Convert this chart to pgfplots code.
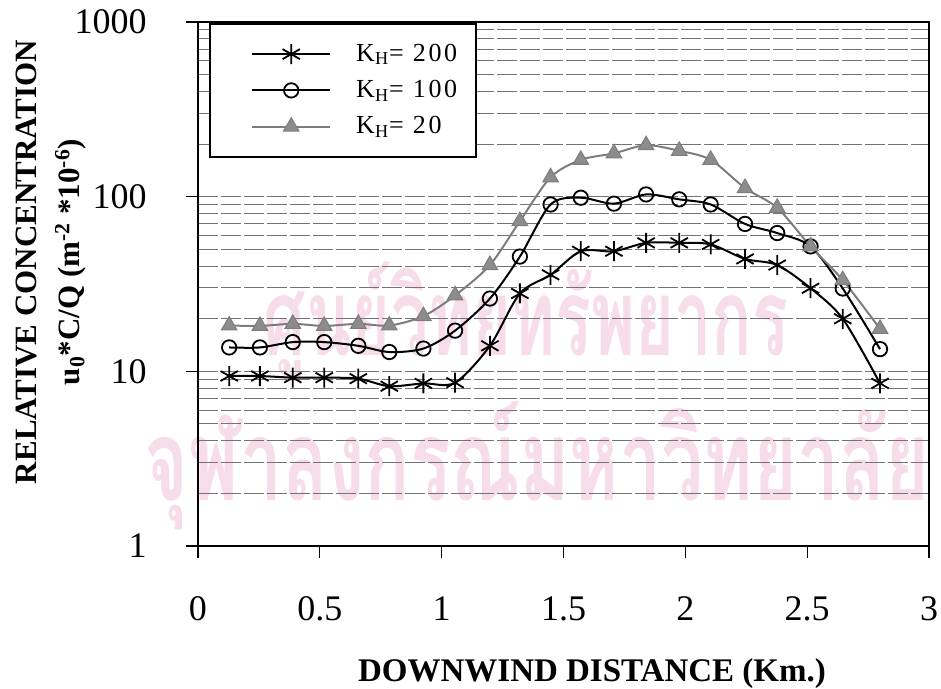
\documentclass[border=0pt]{standalone}
\usepackage{fontspec}
\setmainfont{Liberation Serif}
\newfontfamily\thaifont[Script=Thai]{Loma}
\newfontfamily\legfont[LetterSpace=10]{Liberation Serif}
\usepackage{graphicx}
\usepackage{pgfplots}
\usepackage{pgfplotstable}
\pgfplotsset{compat=1.18}
\definecolor{wm}{RGB}{247,220,233}
\definecolor{trigray}{RGB}{125,125,125}
\definecolor{trifill}{RGB}{140,140,140}

\pgfplotstableread{
x      k200  k100  k20
0.128  9.40  13.7  18.3
0.254  9.40  13.7  18.2
0.389  9.20  14.7  18.7
0.518  9.20  14.7  18.2
0.658  9.08  14.0  18.7
0.785  8.22  12.9  18.3
0.925  8.53  13.5  20.7
1.055  8.61  17.1  27.2
1.198  14.0  26.1  40.6
1.321  27.9  45.4  72.4
1.447  35.7  90.2  129
1.571  48.7  98.6  162.5
1.707  48.7  91.2  177
1.839  54.4  103   197
1.975  54.4  96.5  183
2.104  53.3  90.2  162.5
2.245  44.0  69.8  112
2.377  40.6  61.9  86.3
2.514  29.9  51.9  51.9
2.646  20.0  29.8  33.3
2.799  8.53  13.4  17.5
}\datatable

\begin{document}
\begin{tikzpicture}
\useasboundingbox (-99pt,-71.5pt) rectangle (371.5pt,273pt);
\node[text=wm,inner sep=0pt] at (164pt,112pt) {\scalebox{1}[1.6]{\resizebox{262pt}{!}{\thaifont\bfseries ศูนย์วิทยทรัพยากร}}};
\node[text=wm,inner sep=0pt] at (169.5pt,40pt) {\scalebox{1}[1.5]{\resizebox{392pt}{!}{\thaifont\bfseries จุฬาลงกรณ์มหาวิทยาลัย}}};
\begin{axis}[
  at={(0pt,0pt)}, anchor=south west,
  scale only axis, width=365.5pt, height=262pt,
  ymode=log, xmin=0, xmax=3, ymin=1, ymax=1000,
  xtick={0,0.5,1,1.5,2,2.5,3},
  xticklabels={0,0.5,1,1.5,2,2.5,3},
  ytick={1,10,100,1000},
  yticklabels={1,10,100,1000},
  minor ytick={2,3,4,5,6,7,8,9,20,30,40,50,60,70,80,90,200,300,400,500,600,700,800,900},
  ymajorgrids=true, yminorgrids=true,
  major grid style={black!55, line width=0.5pt, dash pattern=on 10pt off 1.5pt},
  minor grid style={black!55, line width=0.5pt, dash pattern=on 10pt off 1.5pt},
  tick align=outside,
  major tick length=6pt, minor tick length=0pt,
  xtick pos=bottom, ytick pos=left,
  axis line style={line width=1.2pt},
  tick style={black, line width=0.6pt},
  /pgf/number format/assume math mode=true,
  tick label style={font=\fontsize{18}{18}\selectfont, inner sep=0pt},
  xticklabel style={anchor=north, yshift=-19pt},
  yticklabel style={anchor=east, xshift=-19.5pt},
  xlabel={DOWNWIND DISTANCE (Km.)},
  xlabel style={at={(axis description cs:0.539,0)}, anchor=north, yshift=-56pt,
    inner sep=0pt, font=\fontsize{16.5}{20}\selectfont\bfseries},
  ylabel={RELATIVE CONCENTRATION\\u\textsubscript{0}*C/Q (m\textsuperscript{-2} *10\textsuperscript{-6})},
  ylabel style={at={(axis description cs:-0.152,0.542)}, anchor=south, rotate=0,
    inner sep=0pt, align=center, font=\fontsize{15.5}{21.5}\selectfont\bfseries},
  legend style={at={(axis description cs:0.0151,0.9985)}, anchor=north west,
    draw=black, line width=1.2pt, fill=white, inner xsep=9.5pt, inner ysep=10pt,
    nodes={inner sep=0pt, anchor=west}, column sep=12.5pt, row sep=8pt,
    font=\fontsize{13}{13}\selectfont\legfont},
  legend cell align=left,
  legend image code/.code={%
    \path (-11pt,0pt);
    \draw[mark repeat=2,mark phase=2,#1] plot coordinates {(0pt,0pt) (19.5pt,0pt) (39pt,0pt)};},
]
\addplot[black, line width=1pt, smooth, tension=0.5, mark=asterisk,
  mark size=5pt, mark options={line width=0.9pt}] table[x=x,y=k200] {\datatable};
\addlegendentry{K\textsubscript{H}= 200}
\addplot[black, line width=1pt, smooth, tension=0.5, mark=o,
  mark size=3.6pt, mark options={fill=white, line width=0.9pt}] table[x=x,y=k100] {\datatable};
\addlegendentry{K\textsubscript{H}= 100}
\addplot[trigray, line width=1pt, smooth, tension=0.5, mark=triangle*,
  mark size=4.5pt, mark options={fill=trifill, draw=trigray, line width=0.5pt}] table[x=x,y=k20] {\datatable};
\addlegendentry{K\textsubscript{H}= 20}
\end{axis}
\end{tikzpicture}
\end{document}
